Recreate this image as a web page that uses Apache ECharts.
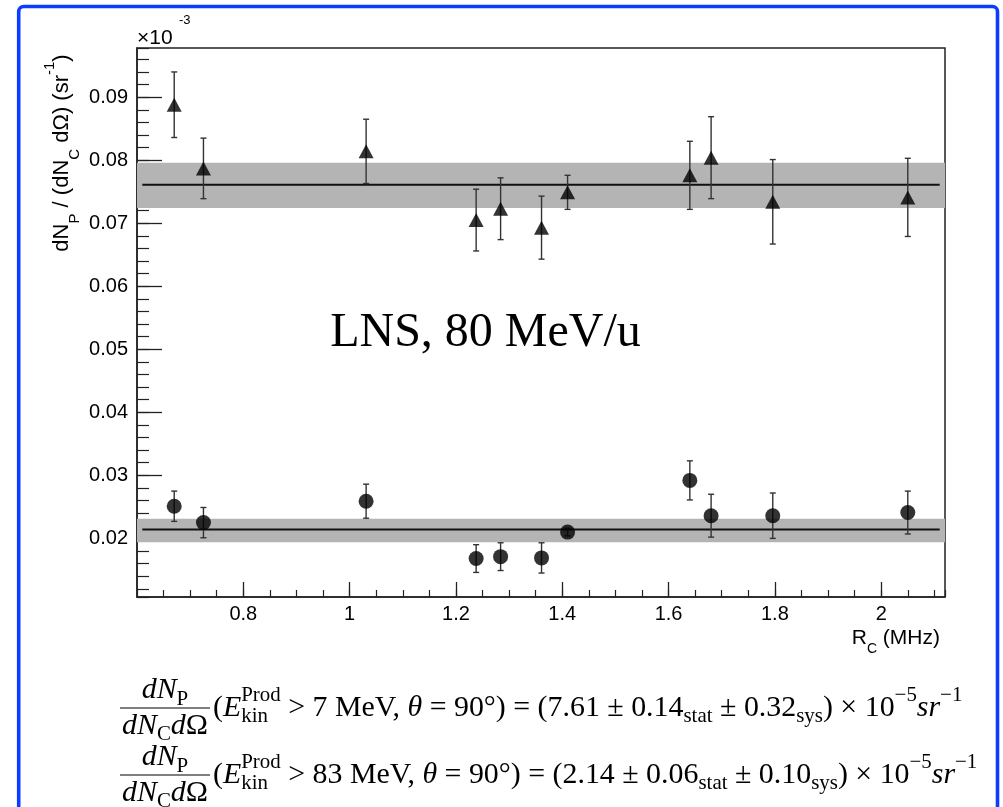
<!DOCTYPE html>
<html>
<head>
<meta charset="utf-8">
<script src="https://cdn.jsdelivr.net/npm/echarts@6/dist/echarts.min.js"></script>
<style>
html,body{margin:0;padding:0;background:#fff;}
#chart{width:1003px;height:807px;}
</style>
</head>
<body>
<div id="chart"></div>
<script>
// ---------- data (y in units of 1e-3 sr^-1) ----------
const rateMHz      = [0.670, 0.725, 1.031, 1.238, 1.284, 1.361, 1.410, 1.640, 1.680, 1.796, 2.050];
const lowThrValues = [0.0888, 0.0787, 0.0814, 0.0705, 0.0723, 0.0693, 0.0749, 0.0776, 0.0804, 0.0734, 0.0741];
const lowThrErrors = [0.0052, 0.0048, 0.0051, 0.0049, 0.0049, 0.0050, 0.0027, 0.0054, 0.0065, 0.0067, 0.0062];
const highThrValues = [0.0251, 0.0225, 0.0259, 0.0168, 0.0171, 0.0169, 0.0210, 0.0292, 0.0236, 0.0236, 0.0241];
const highThrErrors = [0.0024, 0.0024, 0.0027, 0.0022, 0.0022, 0.0024, 0.0006, 0.0031, 0.0034, 0.0036, 0.0034];

// fit results (x 1e-5 sr^-1)
const fitThresholds = [7, 83];
const fitValues = [7.61, 2.14];
const fitStat = [0.14, 0.06];
const fitSys = [0.32, 0.10];
const bandLow  = [0.0724, 0.0194];
const bandHigh = [0.0796, 0.0231];
const fitXRange = [0.61, 2.11];

// axes
const xRange = [0.6, 2.12];
const yRange = [0.0107, 0.0978];
const xTicks = [0.8, 1.0, 1.2, 1.4, 1.6, 1.8, 2.0];
const xTickLabels = ['0.8', '1', '1.2', '1.4', '1.6', '1.8', '2'];
const yTicks = [0.02, 0.03, 0.04, 0.05, 0.06, 0.07, 0.08, 0.09];
const yTickLabels = ['0.02', '0.03', '0.04', '0.05', '0.06', '0.07', '0.08', '0.09'];

// ---------- helpers ----------
function pickLabel(v, ticks, labels) {
  const i = ticks.findIndex(t => Math.abs(t - v) < 1e-7);
  return i >= 0 ? labels[i] : '';
}
const fitCenters = fitValues.map(v => v / 100);

const measureCtx = document.createElement('canvas').getContext('2d');
const SERIF = 'Liberation Serif';
function tw(text, size, italic) {
  measureCtx.font = (italic ? 'italic ' : '') + size + 'px "' + SERIF + '"';
  return measureCtx.measureText(text).width;
}
function formulaTokens(i) {
  return [
    {t: '(', f: 'rm'}, {t: 'E', f: 'it'}, {stack: ['Prod', 'kin']},
    {t: ' > ' + fitThresholds[i] + ' MeV, ', f: 'rm'}, {t: 'θ', f: 'it'},
    {t: ' = 90°) = (' + fitValues[i].toFixed(2) + ' ± ' + fitStat[i].toFixed(2), f: 'rm'},
    {t: 'stat', f: 'sub'}, {t: ' ± ' + fitSys[i].toFixed(2), f: 'rm'}, {t: 'sys', f: 'sub'},
    {t: ') × 10', f: 'rm'}, {t: '−5', f: 'sup'}, {t: 'sr', f: 'it'}, {t: '−1', f: 'sup'}
  ];
}
const numTokens = [{t: 'dN', f: 'it'}, {t: 'P', f: 'sub'}];
const denTokens = [{t: 'dN', f: 'it'}, {t: 'C', f: 'sub'}, {t: 'd', f: 'it'}, {t: 'Ω', f: 'rm'}];

function tokensWidth(tokens, size) {
  let w = 0;
  const s = size * 0.7;
  tokens.forEach(k => {
    if (k.stack) w += Math.max(tw(k.stack[0], s, false), tw(k.stack[1], s, false));
    else if (k.f === 'sub' || k.f === 'sup') w += tw(k.t, s, false);
    else w += tw(k.t, size, k.f === 'it');
  });
  return w;
}
function placeTokens(tokens, x0, yMid, size, out) {
  let x = x0;
  const s = size * 0.7;
  const mk = (text, x, y, fs, italic) => ({
    type: 'text', x: x, y: y, silent: true,
    style: {text: text, fontSize: fs, fontFamily: SERIF, fontStyle: italic ? 'italic' : 'normal',
            fill: '#000', align: 'left', verticalAlign: 'middle'}
  });
  tokens.forEach(k => {
    if (k.stack) {
      out.push(mk(k.stack[0], x, yMid - 0.42 * size, s, false));
      out.push(mk(k.stack[1], x, yMid + 0.30 * size, s, false));
      x += Math.max(tw(k.stack[0], s, false), tw(k.stack[1], s, false));
    } else if (k.f === 'sub') {
      out.push(mk(k.t, x, yMid + 0.30 * size, s, false));
      x += tw(k.t, s, false);
    } else if (k.f === 'sup') {
      out.push(mk(k.t, x, yMid - 0.42 * size, s, false));
      x += tw(k.t, s, false);
    } else {
      out.push(mk(k.t, x, yMid, size, k.f === 'it'));
      x += tw(k.t, size, k.f === 'it');
    }
  });
  return x;
}

// formula layout: fit font size so line 1 spans 120 -> 958
const formulaLeft = 120, formulaRight = 958;
function lineWidthAt(size, i) {
  const frac = Math.max(tokensWidth(numTokens, size), tokensWidth(denTokens, size)) + 4;
  return frac + 3 + tokensWidth(formulaTokens(i), size);
}
const fSize = 100 * (formulaRight - formulaLeft) / lineWidthAt(100, 0);
const formulaMids = [708, 775];
const formulaGraphics = [];
formulaMids.forEach((ym, i) => {
  const nw = tokensWidth(numTokens, fSize), dw = tokensWidth(denTokens, fSize);
  const fw = Math.max(nw, dw) + 4;
  placeTokens(numTokens, formulaLeft + (fw - nw) / 2, ym - 0.6 * fSize, fSize, formulaGraphics);
  placeTokens(denTokens, formulaLeft + (fw - dw) / 2, ym + 0.6 * fSize, fSize, formulaGraphics);
  formulaGraphics.push({type: 'line', silent: true,
    shape: {x1: formulaLeft, y1: ym, x2: formulaLeft + fw, y2: ym},
    style: {stroke: '#000', lineWidth: 1.2}});
  placeTokens(formulaTokens(i), formulaLeft + fw + 3, ym, fSize, formulaGraphics);
});

// ---------- chart ----------
const chart = echarts.init(document.getElementById('chart'), null, {renderer: 'canvas'});
const AXC = '#222';
const SANS = 'Liberation Sans';
const labelFont = {fontSize: 20, fontFamily: SANS, color: '#000'};

function errorSeries(vals, errs) {
  return {
    type: 'custom', z: 3, silent: true,
    data: rateMHz.map((x, i) => [x, vals[i], errs[i]]),
    renderItem: function (params, api) {
      const x = api.value(0), y = api.value(1), e = api.value(2);
      const p1 = api.coord([x, y - e]), p2 = api.coord([x, y + e]);
      const st = {stroke: '#333', lineWidth: 1.4};
      return {type: 'group', children: [
        {type: 'line', shape: {x1: p1[0], y1: p1[1], x2: p2[0], y2: p2[1]}, style: st},
        {type: 'line', shape: {x1: p1[0] - 3, y1: p1[1], x2: p1[0] + 3, y2: p1[1]}, style: st},
        {type: 'line', shape: {x1: p2[0] - 3, y1: p2[1], x2: p2[0] + 3, y2: p2[1]}, style: st}
      ]};
    }
  };
}

const option = {
  animation: false,
  backgroundColor: '#fff',
  grid: {left: 137, right: 58, top: 48, bottom: 210, show: true,
         borderColor: AXC, borderWidth: 1.5, backgroundColor: 'transparent'},
  xAxis: [
    {type: 'value', min: xRange[0], max: xRange[1], interval: 0.2, position: 'bottom',
     axisLine: {lineStyle: {color: AXC, width: 1.5}},
     axisTick: {inside: true, length: 15, lineStyle: {color: AXC, width: 1.3}},
     axisLabel: {margin: 7, ...labelFont, showMinLabel: false, showMaxLabel: false,
                 formatter: v => pickLabel(v, xTicks, xTickLabels)},
     splitLine: {show: false}},
    {type: 'value', min: xRange[0], max: xRange[1], interval: 0.05, position: 'bottom',
     axisLine: {show: false},
     axisTick: {inside: true, length: 7, lineStyle: {color: AXC, width: 1.2}},
     axisLabel: {show: false}, splitLine: {show: false}}
  ],
  yAxis: [
    {type: 'value', min: yRange[0], max: yRange[1], splitNumber: 9, minInterval: 0.01, maxInterval: 0.01,
     position: 'left',
     axisLine: {show: true, lineStyle: {color: AXC, width: 1.5}},
     axisTick: {show: true, inside: true, length: 25, lineStyle: {color: AXC, width: 1.3}},
     axisLabel: {margin: 9, ...labelFont, showMinLabel: false, showMaxLabel: false,
                 formatter: v => pickLabel(v, yTicks, yTickLabels)},
     splitLine: {show: false}},
    {type: 'value', min: yRange[0], max: yRange[1], splitNumber: 44, minInterval: 0.002, maxInterval: 0.002,
     position: 'left', offset: 0,
     axisLine: {show: false},
     axisTick: {show: true, inside: true, length: 12, lineStyle: {color: AXC, width: 1.2}},
     axisLabel: {show: false}, splitLine: {show: false}}
  ],
  series: [
    {type: 'line', z: 1, data: [], silent: true,
     markArea: {silent: true, itemStyle: {color: '#b4b4b4', opacity: 1},
       data: bandLow.map((lo, i) => [{yAxis: lo}, {yAxis: bandHigh[i]}])}},
    ...fitCenters.map(c => ({
      type: 'line', z: 2, silent: true, symbol: 'none',
      data: [[fitXRange[0], c], [fitXRange[1], c]],
      lineStyle: {color: '#111', width: 2}
    })),
    errorSeries(lowThrValues, lowThrErrors),
    errorSeries(highThrValues, highThrErrors),
    {type: 'scatter', z: 4, symbol: 'triangle', symbolSize: [15, 14], silent: true,
     itemStyle: {color: '#000'}, data: rateMHz.map((x, i) => [x, lowThrValues[i]])},
    {type: 'scatter', z: 4, symbol: 'circle', symbolSize: 15, silent: true,
     itemStyle: {color: '#000'}, data: rateMHz.map((x, i) => [x, highThrValues[i]])}
  ],
  graphic: [
    {type: 'rect', silent: true, shape: {x: 18.7, y: 6.5, width: 978.8, height: 900, r: 5},
     style: {fill: 'none', stroke: '#0b3cff', lineWidth: 3.6}},
    {type: 'text', x: 137, y: 38, silent: true,
     style: {text: '×10', fontSize: 21, fontFamily: SANS, fill: '#000', align: 'left', verticalAlign: 'middle'}},
    {type: 'text', x: 179, y: 20, silent: true,
     style: {text: '-3', fontSize: 13, fontFamily: SANS, fill: '#000', align: 'left', verticalAlign: 'middle'}},
    {type: 'text', x: 62, y: 153, rotation: Math.PI / 2, silent: true,
     style: {text: 'dN{sub|P} / (dN{sub|C} dΩ) (sr{sup|-1})', fontSize: 22, fontFamily: SANS,
             fill: '#000', align: 'center', verticalAlign: 'middle', lineHeight: 40,
             rich: {sub: {fontSize: 15, fontFamily: SANS, verticalAlign: 'bottom', lineHeight: 15},
                    sup: {fontSize: 15, fontFamily: SANS, verticalAlign: 'top', lineHeight: 15}}}},
    {type: 'text', x: 940, y: 638, silent: true,
     style: {text: 'R{sub|C} (MHz)', fontSize: 21, fontFamily: SANS, fill: '#000',
             align: 'right', verticalAlign: 'middle', lineHeight: 36,
             rich: {sub: {fontSize: 14, fontFamily: SANS, verticalAlign: 'bottom', lineHeight: 14}}}},
    {type: 'text', x: 485.5, y: 333, silent: true,
     style: {text: 'LNS, 80 MeV/u', fontSize: 48, fontFamily: SERIF, fill: '#000', align: 'center', verticalAlign: 'middle'}},
    ...formulaGraphics
  ]
};
chart.setOption(option);
</script>
</body>
</html>
